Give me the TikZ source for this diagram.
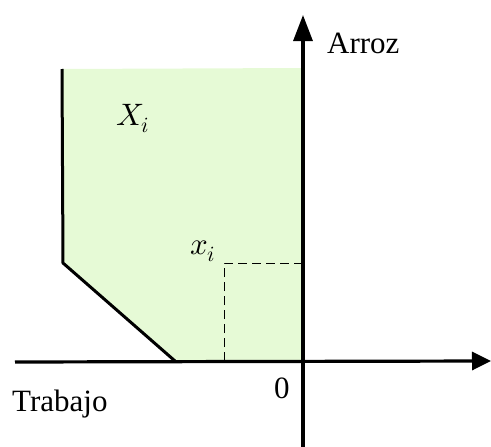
\documentclass[tikz,border=0pt]{standalone}
\usepackage{fontspec}
\usepackage{unicode-math}
\setmainfont{Liberation Serif}
\setmathfont{Latin Modern Math}
\usetikzlibrary{arrows.meta}
\definecolor{regfill}{HTML}{E6FAD6}
\tikzset{
  axis/.style={line width=3.2pt},
  bound/.style={line width=3pt, line join=miter},
  guide/.style={line width=1pt, dash pattern=on 9pt off 5pt},
  lbl/.style={inner sep=0pt, font=\fontsize{31}{36}\selectfont},
}
\begin{document}
\begin{tikzpicture}[x=1pt,y=-1pt]
\useasboundingbox (0,0) rectangle (491,447);
% coordinates
\coordinate (tl) at (62,69);
\coordinate (tr) at (303,68);
\coordinate (ml) at (63,263);
\coordinate (bd) at (175,361);
\coordinate (o) at (303,361);
\coordinate (xi) at (224,263);
\coordinate (xib) at (224,361);
\coordinate (xia) at (303,263);
\coordinate (ytop) at (303,15);
\coordinate (ybot) at (303,447);
\coordinate (xl) at (15,362);
\coordinate (xr) at (491,361);
% region
\fill[regfill] (tl) -- (tr) -- (o) -- (bd) -- (ml) -- cycle;
% dashed guides
\draw[guide] (xib) -- (xi) -- (xia);
% boundary
\draw[bound] (tl) -- (ml) -- (bd);
% axes
\draw[axis, -{Triangle[length=26pt,width=19pt]}] (ybot) -- (ytop);
\draw[axis, -{Triangle[length=19pt,width=18pt]}] (xl) -- (xr);
% labels
\node[lbl, anchor=base west] (arroz) at (327,53) {Arroz};
\node[lbl, anchor=base west] (trab) at (12,411) {Trabajo};
\node[lbl, anchor=base west] (zero) at (274,398) {0};
\node[lbl, anchor=base west] (Xi) at (116,125) {$X_i$};
\node[lbl, anchor=base west] (xil) at (190,254) {$x_i$};
\end{tikzpicture}
\end{document}
